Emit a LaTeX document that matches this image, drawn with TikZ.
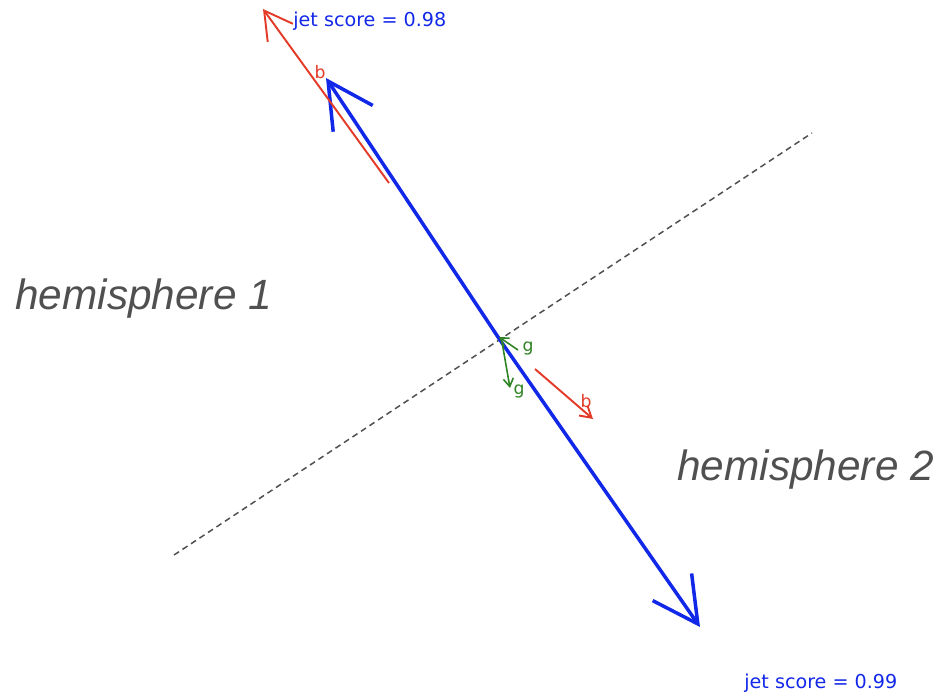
\documentclass[tikz,border=0pt]{standalone}
\usepackage{fontspec}
\usepackage{xcolor}
\usepackage{tikz}
\usetikzlibrary{arrows.meta}
\newfontfamily\labelfont{DejaVu Sans}
\newfontfamily\hemifont{Liberation Sans}
\definecolor{jetblue}{RGB}{18,40,232}
\definecolor{bred}{RGB}{228,58,40}
\definecolor{ggreen}{RGB}{46,132,34}
\definecolor{axisgray}{RGB}{80,80,80}

\begin{document}
\begin{tikzpicture}[
    x=0.02cm, y=-0.02cm,
    jet/.style={jetblue, line width=2pt, -{Straight Barb[length=0.9cm, width=0.95cm, line width=2pt]}},
    bquark/.style={bred, line width=1.1pt},
    gluon/.style={ggreen, line width=0.9pt, -{Straight Barb[length=0.16cm, width=0.2cm]}},
    axisline/.style={axisgray, line width=0.85pt, dash pattern=on 3.4pt off 2.4pt},
    score/.style={jetblue, font=\labelfont\fontsize{10.9}{13}\selectfont, anchor=west, inner sep=0pt},
    parton/.style={font=\labelfont\fontsize{9.8}{12}\selectfont, inner sep=0pt},
    hemi/.style={axisgray, font=\hemifont\itshape\fontsize{24.1}{29}\selectfont, anchor=west, inner sep=0pt}
]
\useasboundingbox (0,0) rectangle (940,693);

% thrust axis and the plane between the two hemispheres
\coordinate (o) at (500,340);
\coordinate (p1) at (174,555);
\coordinate (p2) at (812,133);
\draw[axisline] (p1) -- (p2);

\node[hemi] (h1) at (15,299) {hemisphere 1};
\node[hemi] (h2) at (677,470) {hemisphere 2};

% jets
\coordinate (j1) at (326,78);
\coordinate (j2) at (700,627);
\draw[jet] (o) -- (j1);
\draw[jet] (o) -- (j2);
\node[score] (s1) at (293,21) {jet score = 0.98};
\node[score] (s2) at (744,683) {jet score = 0.99};

% b quarks
\coordinate (b1s) at (389,183);
\coordinate (b1e) at (263,9);
\coordinate (b2s) at (535,369);
\coordinate (b2e) at (593,419);
\draw[bquark, -{Straight Barb[length=0.55cm, width=0.62cm]}] (b1s) -- (b1e);
\draw[bquark, -{Straight Barb[length=0.22cm, width=0.26cm]}] (b2s) -- (b2e);
\node[parton, bred] (lb1) at (320,72) {b};
\node[parton, bred] (lb2) at (586,401) {b};

% gluons
\coordinate (g1s) at (518,350);
\coordinate (g1e) at (499,337);
\coordinate (g2s) at (502,342);
\coordinate (g2e) at (510,388);
\draw[gluon] (g1s) -- (g1e);
\draw[gluon] (g2s) -- (g2e);
\node[parton, ggreen] (lg1) at (528,348) {g};
\node[parton, ggreen] (lg2) at (519,391) {g};
\end{tikzpicture}
\end{document}
